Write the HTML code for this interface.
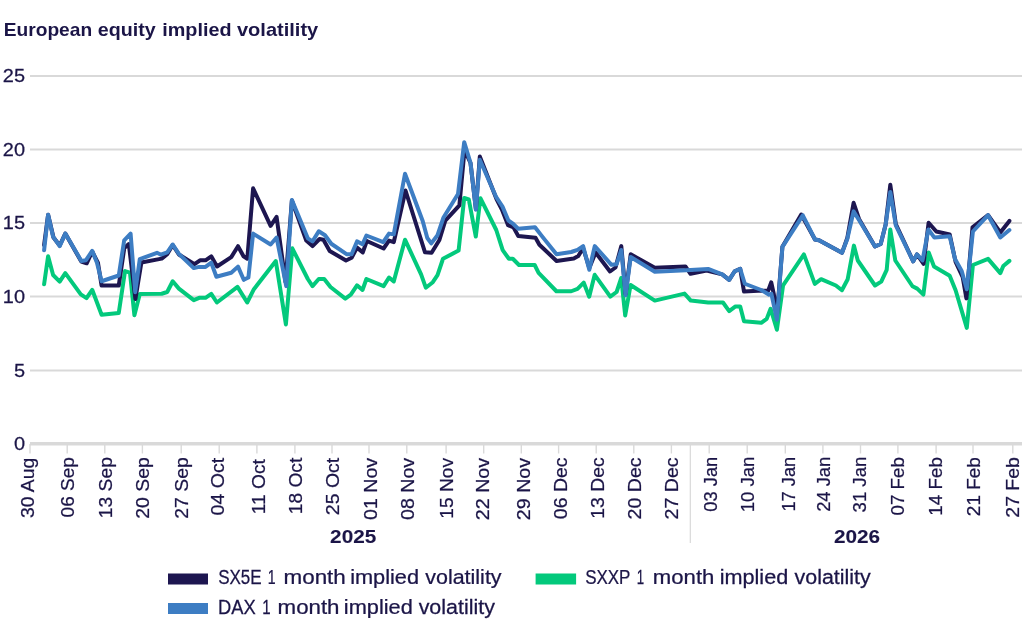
<!DOCTYPE html>
<html><head><meta charset="utf-8"><style>
html,body{margin:0;padding:0;background:#fff;}
body{width:1024px;height:640px;overflow:hidden;}
svg{display:block;will-change:transform;}
text{font-family:"Liberation Sans",sans-serif;fill:#1b1547;stroke:#1b1547;stroke-width:0.25px;}
.nb text{stroke-width:0;}
.yb text{stroke-width:0.1px;}
</style></head><body>
<svg width="1024" height="640" viewBox="0 0 1024 640">
<rect width="1024" height="640" fill="#fff"/>
<g font-size="17.5" font-weight="bold" class="nb"><text transform="translate(3.67 35.9) scale(1.0969 1)">European</text><text transform="translate(97.83 35.9) scale(1.1250 1)">equity</text><text transform="translate(162.22 35.9) scale(1.1311 1)">implied</text><text transform="translate(236.92 35.9) scale(1.1464 1)">volatility</text></g>
<g><line x1="30" y1="370.50" x2="1022" y2="370.50" stroke="#d9d9d9" stroke-width="1.8"/><line x1="30" y1="296.50" x2="1022" y2="296.50" stroke="#d9d9d9" stroke-width="1.8"/><line x1="30" y1="223.00" x2="1022" y2="223.00" stroke="#d9d9d9" stroke-width="1.8"/><line x1="30" y1="149.50" x2="1022" y2="149.50" stroke="#d9d9d9" stroke-width="1.8"/><line x1="30" y1="76.00" x2="1022" y2="76.00" stroke="#d9d9d9" stroke-width="1.8"/></g>
<g font-size="19"><text transform="translate(25 450.00) scale(1.05 1)" text-anchor="end">0</text><text transform="translate(25 376.50) scale(1.05 1)" text-anchor="end">5</text><text transform="translate(25 302.50) scale(1.05 1)" text-anchor="end">10</text><text transform="translate(25 229.00) scale(1.05 1)" text-anchor="end">15</text><text transform="translate(25 155.50) scale(1.05 1)" text-anchor="end">20</text><text transform="translate(25 82.00) scale(1.05 1)" text-anchor="end">25</text></g>
<line x1="30" y1="443.8" x2="1022" y2="443.8" stroke="#d9d9d9" stroke-width="3.4"/>
<g><line x1="30.0" y1="444" x2="30.0" y2="453.5" stroke="#d9d9d9" stroke-width="1.4"/><line x1="67.2" y1="444" x2="67.2" y2="453.5" stroke="#d9d9d9" stroke-width="1.4"/><line x1="104.8" y1="444" x2="104.8" y2="453.5" stroke="#d9d9d9" stroke-width="1.4"/><line x1="142.4" y1="444" x2="142.4" y2="453.5" stroke="#d9d9d9" stroke-width="1.4"/><line x1="181.2" y1="444" x2="181.2" y2="453.5" stroke="#d9d9d9" stroke-width="1.4"/><line x1="219.2" y1="444" x2="219.2" y2="453.5" stroke="#d9d9d9" stroke-width="1.4"/><line x1="256.9" y1="444" x2="256.9" y2="453.5" stroke="#d9d9d9" stroke-width="1.4"/><line x1="294.9" y1="444" x2="294.9" y2="453.5" stroke="#d9d9d9" stroke-width="1.4"/><line x1="332.0" y1="444" x2="332.0" y2="453.5" stroke="#d9d9d9" stroke-width="1.4"/><line x1="369.0" y1="444" x2="369.0" y2="453.5" stroke="#d9d9d9" stroke-width="1.4"/><line x1="406.8" y1="444" x2="406.8" y2="453.5" stroke="#d9d9d9" stroke-width="1.4"/><line x1="446.1" y1="444" x2="446.1" y2="453.5" stroke="#d9d9d9" stroke-width="1.4"/><line x1="483.7" y1="444" x2="483.7" y2="453.5" stroke="#d9d9d9" stroke-width="1.4"/><line x1="521.3" y1="444" x2="521.3" y2="453.5" stroke="#d9d9d9" stroke-width="1.4"/><line x1="558.6" y1="444" x2="558.6" y2="453.5" stroke="#d9d9d9" stroke-width="1.4"/><line x1="596.2" y1="444" x2="596.2" y2="453.5" stroke="#d9d9d9" stroke-width="1.4"/><line x1="633.8" y1="444" x2="633.8" y2="453.5" stroke="#d9d9d9" stroke-width="1.4"/><line x1="671.4" y1="444" x2="671.4" y2="453.5" stroke="#d9d9d9" stroke-width="1.4"/><line x1="709.2" y1="444" x2="709.2" y2="453.5" stroke="#d9d9d9" stroke-width="1.4"/><line x1="747.2" y1="444" x2="747.2" y2="453.5" stroke="#d9d9d9" stroke-width="1.4"/><line x1="785.3" y1="444" x2="785.3" y2="453.5" stroke="#d9d9d9" stroke-width="1.4"/><line x1="822.9" y1="444" x2="822.9" y2="453.5" stroke="#d9d9d9" stroke-width="1.4"/><line x1="860.5" y1="444" x2="860.5" y2="453.5" stroke="#d9d9d9" stroke-width="1.4"/><line x1="897.9" y1="444" x2="897.9" y2="453.5" stroke="#d9d9d9" stroke-width="1.4"/><line x1="936.1" y1="444" x2="936.1" y2="453.5" stroke="#d9d9d9" stroke-width="1.4"/><line x1="973.0" y1="444" x2="973.0" y2="453.5" stroke="#d9d9d9" stroke-width="1.4"/><line x1="1012.8" y1="444" x2="1012.8" y2="453.5" stroke="#d9d9d9" stroke-width="1.4"/></g>
<line x1="690.3" y1="445" x2="690.3" y2="543" stroke="#d9d9d9" stroke-width="1.2"/>
<g font-size="19"><text transform="translate(34.20 517.94) rotate(-90) scale(1.0177 1)">30 Aug</text><text transform="translate(74.20 517.44) rotate(-90) scale(1.0021 1)">06 Sep</text><text transform="translate(111.70 518.17) rotate(-90) scale(1.0142 1)">13 Sep</text><text transform="translate(148.80 518.68) rotate(-90) scale(1.0228 1)">20 Sep</text><text transform="translate(187.80 518.68) rotate(-90) scale(1.0228 1)">27 Sep</text><text transform="translate(224.40 515.47) rotate(-90) scale(1.0311 1)">04 Oct</text><text transform="translate(264.80 514.16) rotate(-90) scale(1.0077 1)">11 Oct</text><text transform="translate(301.70 514.16) rotate(-90) scale(1.0077 1)">18 Oct</text><text transform="translate(339.40 515.18) rotate(-90) scale(1.0260 1)">25 Oct</text><text transform="translate(376.70 519.97) rotate(-90) scale(1.0321 1)">01 Nov</text><text transform="translate(414.20 519.97) rotate(-90) scale(1.0321 1)">08 Nov</text><text transform="translate(452.55 518.66) rotate(-90) scale(1.0104 1)">15 Nov</text><text transform="translate(489.40 520.19) rotate(-90) scale(1.0358 1)">22 Nov</text><text transform="translate(530.30 520.19) rotate(-90) scale(1.0358 1)">29 Nov</text><text transform="translate(566.70 519.21) rotate(-90) scale(1.0270 1)">06 Dec</text><text transform="translate(604.20 518.67) rotate(-90) scale(1.0180 1)">13 Dec</text><text transform="translate(640.90 519.43) rotate(-90) scale(1.0307 1)">20 Dec</text><text transform="translate(677.55 519.43) rotate(-90) scale(1.0307 1)">27 Dec</text><text transform="translate(716.70 511.66) rotate(-90) scale(0.9633 1)">03 Jan</text><text transform="translate(754.20 512.36) rotate(-90) scale(0.9758 1)">10 Jan</text><text transform="translate(794.70 511.59) rotate(-90) scale(0.9620 1)">17 Jan</text><text transform="translate(829.90 511.87) rotate(-90) scale(0.9671 1)">24 Jan</text><text transform="translate(865.90 512.41) rotate(-90) scale(0.9766 1)">31 Jan</text><text transform="translate(903.90 515.43) rotate(-90) scale(0.9859 1)">07 Feb</text><text transform="translate(942.40 515.63) rotate(-90) scale(0.9893 1)">14 Feb</text><text transform="translate(979.90 516.15) rotate(-90) scale(0.9983 1)">21 Feb</text><text transform="translate(1018.70 517.68) rotate(-90) scale(1.0244 1)">27 Feb</text></g>
<g font-size="19" font-weight="bold" text-anchor="middle" class="yb">
<text transform="translate(353.2 543.3) scale(1.093 1)">2025</text><text transform="translate(857 543.3) scale(1.093 1)">2026</text></g>
<g fill="none" stroke-width="4" stroke-linejoin="round" stroke-linecap="round">
<path d="M44.1 284.3 L48.1 256.25 L53.1 275 L59.7 281.6 L65.3 273.1 L80.8 294.4 L86.5 298.1 L92.2 289.8 L101.6 314.8 L118.75 313 L125 271.1 L130 272.7 L134.4 315.3 L139.8 293.9 L161.7 293.75 L167.2 292 L172.7 281.25 L178.9 288.6 L193.75 300.2 L199.2 297.8 L205.5 297.8 L211.25 293.9 L216.9 302.5 L237.5 286.9 L247.2 302.5 L253.9 289.2 L275.8 261.1 L285.9 324.4 L292.3 248.3 L307.8 279 L312.5 286.1 L318.75 279 L324.2 279 L330.5 287 L345.3 298.6 L350.8 294.7 L357 285.3 L362.5 290 L366.4 279 L383.6 286.1 L389 277.5 L393.75 281.4 L405 239.7 L421.1 274.4 L425.8 287.7 L432.8 282.2 L437.5 275.2 L443 258.75 L458.6 250.6 L464.2 198 L468.8 199.5 L475.8 236.6 L480.4 198.2 L496.25 230 L502.7 250.2 L508.9 258.75 L512.8 258.75 L519 265 L534.7 265 L538.6 272.8 L556.4 291.25 L571.25 291.25 L577.5 288.9 L583.75 282.7 L589.2 296.7 L594.7 274.8 L610.3 296.7 L616.6 292 L621.25 278 L625.2 315.5 L630.6 285 L654.8 300.6 L684.5 293.6 L690.8 300.6 L708.1 302.5 L723 302.5 L729.2 311.1 L735.5 306.4 L740.2 306.4 L744 321.25 L761.25 322.8 L766.7 318.9 L770.6 308.75 L776.9 329.8 L783.1 285.3 L803.9 254.4 L814.8 283.9 L821.1 279.2 L835.9 285.5 L841.9 290.2 L847.7 279.2 L853.9 245.6 L857.8 260.5 L875 285.5 L881.25 281.6 L886.7 269.8 L890.3 229.5 L895.3 260.5 L912.5 286.25 L917.2 288.6 L923.4 294.6 L928.7 252.5 L934 266.5 L949.7 275.8 L955.6 290.3 L966.8 327.9 L972.9 265 L988.1 258.9 L1000.3 273.1 L1003.3 266 L1009.4 260.9" stroke="#03c97c"/>
<path d="M44.1 245 L48.1 214.8 L53.5 237.5 L59.7 245.5 L65.3 233.6 L81.3 261.5 L86.7 263.3 L92.2 251.5 L98 263 L101.6 285.6 L118.75 285.6 L124.3 248 L128.8 244 L135.4 299 L141.4 262.5 L161.7 258.6 L167.2 254.2 L172.7 245 L178.9 254.5 L194.5 264.2 L200 260.3 L205.5 260.3 L211.25 256.3 L217 266.5 L231.25 257.1 L238 246.2 L243.5 256.3 L247.3 258.7 L253.1 188.3 L270.6 225.8 L276.6 216.9 L285.5 282 L291.9 200.5 L306.25 240.6 L312.5 246.1 L319.5 239 L323.4 239.8 L329.7 251 L346 260.5 L351.6 257.8 L357 247.6 L362.8 252.4 L366.8 241 L383.6 248.5 L389 240.6 L393.75 242.2 L405.5 190.5 L425 252.3 L431.6 252.8 L439.4 240 L445.3 220.7 L459.4 205.3 L464.5 150 L470.5 163 L475.9 209 L479.8 156.6 L496.5 199 L501.9 209.5 L508.1 225.2 L513.6 227.5 L518.3 236.1 L535.5 237.7 L539.4 244.7 L556.6 261 L573.75 258.6 L578.3 256.1 L583.1 248 L589.3 268 L595.6 252.5 L610 271.5 L615.5 267.5 L621.3 246.1 L625.6 294 L630.7 254.3 L654.8 267.8 L685.4 266.4 L690.5 273.8 L706.6 270.5 L722.2 274.4 L729.2 279.8 L734.7 271.25 L740.2 268.9 L744 291.6 L758.1 290.8 L768.3 290.5 L771.2 282.3 L773.8 294 L776.9 316 L782.4 246.8 L801.25 214.5 L815 239.5 L819 240.3 L842 252.8 L847.3 238 L853.6 202.8 L859 219 L875 246.5 L880.7 244 L885.6 224.7 L890.3 184.8 L895.8 224 L913.2 261.3 L917 254.4 L923.6 263.8 L928.6 222.7 L936.3 231.5 L949.7 234.5 L955.6 261.9 L962.7 277.1 L966.4 298.4 L972.5 227.4 L988.1 215.2 L1000.3 232.5 L1009.4 220.9" stroke="#1d1650"/>
<path d="M44.1 250.3 L48.1 214.8 L53.1 236.7 L59.7 246.1 L65.3 233.6 L81.3 260.9 L86 260.2 L92.2 250.8 L96.9 262.5 L101.6 281.25 L118.75 275.5 L124.2 240.3 L130.6 233.6 L135.2 292.2 L139.8 259.1 L157 252.8 L160.9 254.7 L167.2 252.3 L172.7 244.5 L178.9 253.9 L193.75 268.1 L199.2 266.9 L205.5 266.9 L211.25 262.7 L216.4 276.7 L231.25 272.8 L238 266.6 L243.75 279.8 L248.4 277.5 L253.1 233.6 L270.6 244.5 L276.6 237.5 L286.25 286.1 L291.9 200 L307.8 238.3 L312.5 241.4 L318.75 231.25 L325 235.2 L331.25 243.75 L346.9 254.3 L351.6 254.3 L357 241.4 L362.5 244.2 L366.4 235.5 L383.2 242.1 L389 233.6 L393.75 234.4 L405 173.75 L422.7 221 L427.3 238 L431.25 243.4 L437.5 235.2 L443.5 217.5 L458 194 L464.2 142.2 L470.5 162.8 L475.9 209.7 L479.8 159.7 L496.25 197.2 L502.5 206.6 L508.4 220.5 L512.5 223.3 L518.2 228.7 L535 227.2 L542.5 236.9 L556.5 254.3 L571.25 252 L577.5 249.8 L583.1 246.1 L589.3 269.7 L594.75 246.1 L611.5 264.8 L616.6 264.2 L621.3 250 L625.6 295.2 L630.7 257 L654.8 271.7 L686.1 270.2 L708.1 268.9 L722.2 274.4 L729.2 279.8 L734.7 271.25 L740.2 268.9 L744.8 283.75 L761.25 290 L769.1 294.7 L771.4 293.9 L776.9 319.7 L782.4 246.8 L802.8 215.3 L815 239.5 L819 240.3 L842 252.8 L847.3 239 L853.6 211.4 L859 220 L875 246.5 L880.7 244 L885.6 224.7 L890.3 191.9 L895.8 225.5 L913.2 261.3 L917 254.4 L922.5 260.5 L928.4 229.4 L934.4 237.6 L949.7 236.2 L955 259 L961.7 271 L966.8 289.3 L972.9 231.5 L988.1 215.2 L1000.3 237.5 L1009.4 230" stroke="#3d7dc3"/>
</g>
<rect x="168" y="573.5" width="40" height="11" fill="#1d1650"/>
<rect x="168" y="603" width="40" height="11" fill="#3d7dc3"/>
<rect x="535.6" y="573.5" width="40.5" height="11" fill="#03c97c"/>
<g font-size="19.5">
<text transform="translate(218.13 584.4) scale(0.8735 1)">SX5E</text><text transform="translate(267.82 584.4) scale(0.7255 1)">1</text><text transform="translate(283.51 584.4) scale(1.1504 1)">month</text><text transform="translate(350.14 584.4) scale(1.1163 1)">implied</text><text transform="translate(425.23 584.4) scale(1.1018 1)">volatility</text>
<text transform="translate(217.89 614.4) scale(0.9426 1)">DAX</text><text transform="translate(262.25 614.4) scale(0.7731 1)">1</text><text transform="translate(277.57 614.4) scale(1.1436 1)">month</text><text transform="translate(343.84 614.4) scale(1.1163 1)">implied</text><text transform="translate(418.63 614.4) scale(1.1004 1)">volatility</text>
<text transform="translate(585.13 584.2) scale(0.8701 1)">SXXP</text><text transform="translate(636.69 584.2) scale(0.6780 1)">1</text><text transform="translate(652.83 584.2) scale(1.1368 1)">month</text><text transform="translate(719.65 584.2) scale(1.1112 1)">implied</text><text transform="translate(794.53 584.2) scale(1.0989 1)">volatility</text>
</g>
</svg>
</body></html>
